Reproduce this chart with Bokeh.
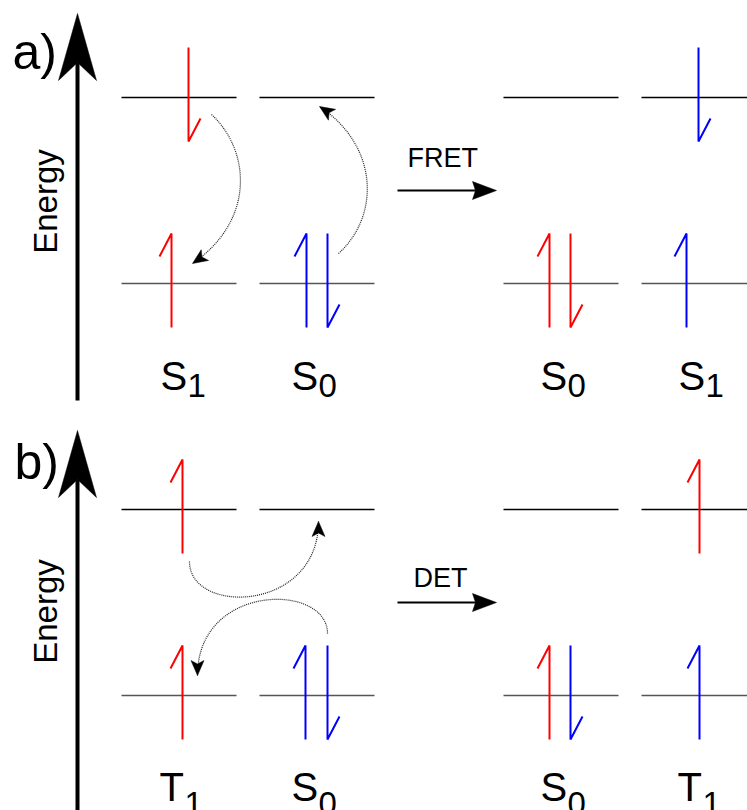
import math
from bokeh.plotting import figure
from bokeh.models import Range1d
from bokeh.core.properties import value
from bokeh.embed import file_html
from bokeh.resources import INLINE

W, H = 747, 810
FONT = value("Liberation Sans")
# the text glyph places the alphabetic baseline about this fraction of an em low
BASE_SHIFT = 0.38

# ---- diagram data (page units, y grows downward) ----
panels = ["a", "b"]
panel_tag = ["a)", "b)"]
panel_process = ["FRET", "DET"]

# orbital levels: left edge of each column, and level heights per panel
level_left = [121, 259, 503, 641]
level_len = 115
level_upper = [97, 509]
level_lower = [283, 695]

# electrons: panel index, level (0 upper / 1 lower), x, spin, colour
elec_panel = [0, 0, 0, 0, 0, 0, 0, 0, 1, 1, 1, 1, 1, 1, 1, 1]
elec_level = [0, 1, 1, 1, 1, 1, 0, 1, 0, 1, 1, 1, 1, 1, 0, 1]
elec_x = [188, 171, 306, 327, 549, 570, 698, 686,
          182, 182, 305, 327, 549, 570, 699, 699]
elec_spin = ["down", "up", "up", "down", "up", "down", "down", "up",
             "up", "up", "up", "down", "up", "down", "up", "up"]
elec_color = ["red", "red", "blue", "blue", "red", "red", "blue", "blue",
              "red", "red", "blue", "blue", "red", "blue", "red", "blue"]

# state labels under each column
label_panel = [0, 0, 0, 0, 1, 1, 1, 1]
label_main = ["S", "S", "S", "S", "T", "S", "S", "T"]
label_sub = ["1", "0", "0", "1", "1", "0", "0", "1"]
label_x = [160, 291, 540, 678, 159, 291, 540, 677]
label_base = [391, 802]
label_sub_base = [398, 816]

# dotted electron-transfer paths (cubic Bezier: start, ctrl1, ctrl2, end)
path_x0 = [211, 338, 189, 327]
path_y0 = [114, 253, 561, 633]
path_cx0 = [250, 380, 189, 327]
path_cy0 = [150, 215, 615, 582]
path_cx1 = [255, 378, 318, 197]
path_cy1 = [220, 145, 612, 582]
path_x1 = [192, 319, 318, 197]
path_y1 = [263, 106, 521, 675]

# energy axes and process arrows
axis_x = 77
axis_tip = [13, 430]
axis_end = [400, 810]
proc_x0, proc_x1 = 397, 496
proc_y = [190, 602]
proc_text_x = [407, 413]
proc_text_base = [168, 588]
tag_x = [12, 14]
tag_base = [70, 480]
energy_x = 58
energy_y = [201, 611]
energy_size = 33

RED = "#ff0000"
BLUE = "#0000ff"
colmap = {"red": RED, "blue": BLUE}


def head(tx, ty, dx, dy, length, half, notch):
    """Swept arrowhead polygon with its tip at (tx, ty) pointing along (dx, dy)."""
    n = math.hypot(dx, dy)
    ux, uy = dx / n, dy / n
    px, py = -uy, ux
    bx, by = tx - ux * length, ty - uy * length
    nx, ny = tx - ux * (length - notch), ty - uy * (length - notch)
    return ([tx, bx + px * half, nx, bx - px * half],
            [ty, by + py * half, ny, by - py * half])


def up(ys, size):
    return [y - BASE_SHIFT * size for y in ys]


p = figure(width=W, height=H, output_backend="svg", toolbar_location=None,
           x_range=Range1d(0, W), y_range=Range1d(H, 0),
           x_axis_type=None, y_axis_type=None, min_border=0,
           background_fill_color="white", border_fill_color="white")
p.grid.visible = False
p.outline_line_color = None

# orbital levels
for i in range(len(panels)):
    p.segment(x0=level_left, x1=[l + level_len for l in level_left],
              y0=[level_upper[i]] * 4, y1=[level_upper[i]] * 4,
              line_color="black", line_width=1.3)
    p.segment(x0=level_left, x1=[l + level_len for l in level_left],
              y0=[level_lower[i]] * 4, y1=[level_lower[i]] * 4,
              line_color="#555555", line_width=1.5)

# electrons as half-arrows
xs, ys, cs = [], [], []
for pi, lv, x, spin, c in zip(elec_panel, elec_level, elec_x, elec_spin, elec_color):
    yl = level_upper[pi] if lv == 0 else level_lower[pi]
    top, bot = yl - 50, yl + 44
    if spin == "up":
        xs.append([x, x, x - 12])
        ys.append([bot, top, top + 23])
    else:
        xs.append([x, x, x + 12])
        ys.append([top, bot, bot - 23])
    cs.append(colmap[c])
p.multi_line(xs=xs, ys=ys, line_color=cs, line_width=2)

# dotted transfer paths with arrowheads
p.bezier(x0=path_x0, y0=path_y0, x1=path_x1, y1=path_y1,
         cx0=path_cx0, cy0=path_cy0, cx1=path_cx1, cy1=path_cy1,
         line_color="#222222", line_width=1.2, line_dash="1 1")
hx, hy = [], []
for x1, y1, cx1, cy1 in zip(path_x1, path_y1, path_cx1, path_cy1):
    a, b = head(x1, y1, x1 - cx1, y1 - cy1, 15, 6.5, 3.5)
    hx.append(a)
    hy.append(b)

# energy axes
for i in range(len(panels)):
    a, b = head(axis_x, axis_tip[i], 0, -1, 67, 19, 18)
    hx.append(a)
    hy.append(b)
    p.segment(x0=[axis_x], x1=[axis_x], y0=[axis_tip[i] + 49], y1=[axis_end[i]],
              line_color="black", line_width=4)
    # process arrow
    p.segment(x0=[proc_x0], x1=[proc_x1 - 20], y0=[proc_y[i]], y1=[proc_y[i]],
              line_color="black", line_width=2)
    a, b = head(proc_x1, proc_y[i], 1, 0, 24, 9, 3)
    hx.append(a)
    hy.append(b)
p.patches(xs=hx, ys=hy, fill_color="black", line_color="black", line_width=0.5)

# texts
p.text(x=tag_x, y=up(tag_base, 50), text=panel_tag, text_font=FONT,
       text_font_size="50px", text_baseline="alphabetic", text_align="left",
       text_color="black")
p.text(x=[energy_x - BASE_SHIFT * energy_size] * 2, y=energy_y,
       text=["Energy", "Energy"], angle=math.pi / 2, text_font=FONT,
       text_font_size=f"{energy_size}px", text_baseline="alphabetic",
       text_align="center", text_color="black")
p.text(x=proc_text_x, y=up(proc_text_base, 27), text=panel_process, text_font=FONT,
       text_font_size="27px", text_baseline="alphabetic", text_align="left",
       text_color="black")

main_y = [label_base[i] for i in label_panel]
sub_y = [label_sub_base[i] for i in label_panel]
sub_x = [x + (27 if m == "S" else 25) for x, m in zip(label_x, label_main)]
p.text(x=label_x, y=up(main_y, 40), text=label_main, text_font=FONT,
       text_font_size="40px", text_baseline="alphabetic", text_align="left",
       text_color="black")
p.text(x=sub_x, y=up(sub_y, 33), text=label_sub, text_font=FONT,
       text_font_size="33px", text_baseline="alphabetic", text_align="left",
       text_color="black")

open("out.html", "w").write(file_html(p, INLINE))
